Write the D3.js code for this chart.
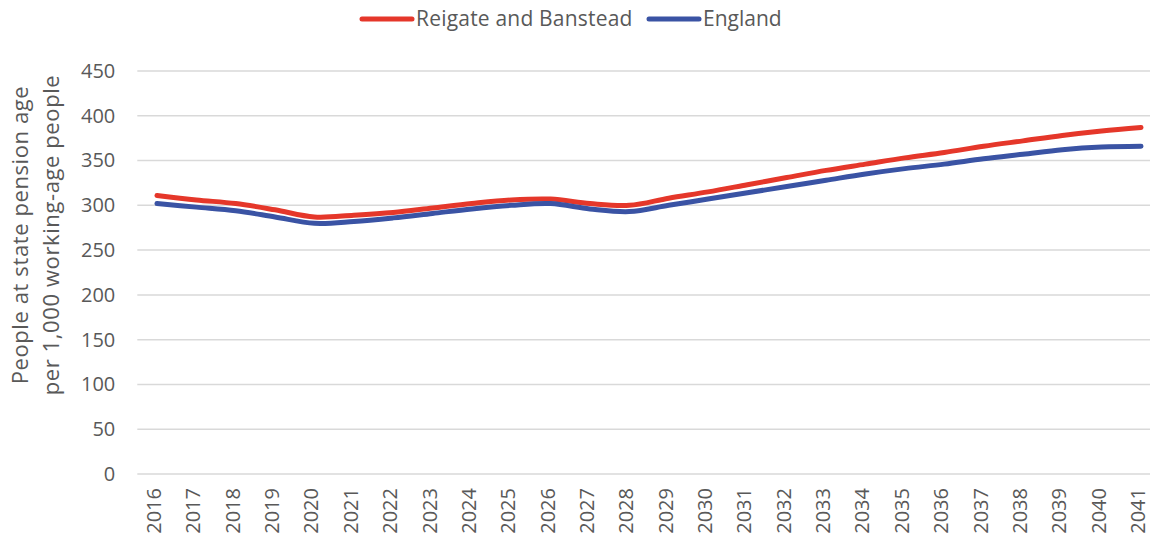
<!DOCTYPE html>
<html>
<head>
<meta charset="utf-8">
<script src="https://cdn.jsdelivr.net/npm/d3@7"></script>
<style>
  html, body { margin: 0; padding: 0; background: #fff; }
  svg { display: block; font-family: "Open Sans", "Noto Sans", sans-serif; }
</style>
</head>
<body>
<svg id="chart" width="1150" height="540"></svg>
<script>
// Old-age dependency: people at state pension age per 1,000 working-age people
const years = ["2016","2017","2018","2019","2020","2021","2022","2023","2024","2025","2026","2027","2028",
               "2029","2030","2031","2032","2033","2034","2035","2036","2037","2038","2039","2040","2041"];
const reigate = [311, 306, 302, 295, 287, 289, 292, 297, 302, 306, 307, 302, 300,
                 308, 315, 323, 331, 339, 346, 353, 359, 366, 372, 378, 383, 387];
const england = [302, 298, 294, 287, 280, 282, 286, 291, 296, 300, 302, 296, 293,
                 300, 307, 314, 321, 328, 335, 341, 346, 352, 357, 362, 365, 366];
const yTicks = [0, 50, 100, 150, 200, 250, 300, 350, 400, 450];
const seriesNames = ["Reigate and Banstead", "England"];
const seriesColors = ["#E5372A", "#3A53A4"];

const svg = d3.select("#chart");
const textColor = "#595959";
const gridColor = "#d9d9d9";

const plot = { left: 137.3, right: 1160.7, top: 71, bottom: 474 };

const x = d3.scaleBand().domain(years).range([plot.left, plot.right]);
const y = d3.scaleLinear().domain([0, 450]).range([plot.bottom, plot.top]);

// horizontal gridlines
svg.append("g")
  .selectAll("line")
  .data(yTicks)
  .join("line")
  .attr("x1", plot.left).attr("x2", plot.right)
  .attr("y1", d => y(d)).attr("y2", d => y(d))
  .attr("stroke", gridColor).attr("stroke-width", 1.5);

// y axis labels
const yAxis = svg.append("g")
  .attr("transform", `translate(${plot.left},0)`)
  .call(d3.axisLeft(y).tickValues(yTicks).tickSize(0).tickPadding(22));
yAxis.select(".domain").remove();
yAxis.selectAll("text")
  .attr("fill", textColor)
  .style("font-size", "20px")
  .style("font-family", "\"Open Sans\", sans-serif");

// x axis labels (rotated)
const xAxis = svg.append("g")
  .attr("transform", `translate(0,${plot.bottom})`)
  .call(d3.axisBottom(x).tickSize(0));
xAxis.select(".domain").remove();
xAxis.selectAll("text")
  .attr("fill", textColor)
  .style("font-size", "20px")
  .style("font-family", "\"Open Sans\", sans-serif")
  .attr("text-anchor", "end")
  .attr("transform", "rotate(-90)")
  .attr("x", -14)
  .attr("y", 0)
  .attr("dy", "0.2em");

// axis title
const title = svg.append("text")
  .attr("transform", "translate(0,235) rotate(-90)")
  .attr("text-anchor", "middle")
  .attr("fill", textColor)
  .style("font-size", "22px")
  .style("letter-spacing", "0.6px");
title.append("tspan").attr("x", 0).attr("y", 28).text("People at state pension age");
title.append("tspan").attr("x", 0).attr("y", 59).text("per 1,000 working-age people");

// series lines
const line = d3.line()
  .x((d, i) => x(years[i]) + x.bandwidth() / 2)
  .y(d => y(d))
  .curve(d3.curveCatmullRom.alpha(0.5));

const seriesData = [reigate, england];
svg.append("g")
  .selectAll("path")
  .data(seriesData)
  .join("path")
  .attr("d", d => line(d))
  .attr("fill", "none")
  .attr("stroke", (d, i) => seriesColors[i])
  .attr("stroke-width", 5)
  .attr("stroke-linecap", "round")
  .attr("stroke-linejoin", "round");

// legend
const legendItems = [
  { name: seriesNames[0], color: seriesColors[0], x0: 362, spacing: "0.2px" },
  { name: seriesNames[1], color: seriesColors[1], x0: 649, spacing: "0px" }
];
const lg = svg.append("g").selectAll("g").data(legendItems).join("g")
  .attr("transform", d => `translate(${d.x0},19)`);
lg.append("line")
  .attr("x1", 0).attr("x2", 50).attr("y1", 0).attr("y2", 0)
  .attr("stroke", d => d.color).attr("stroke-width", 5).attr("stroke-linecap", "round");
lg.append("text")
  .attr("x", 54).attr("y", 0).attr("dy", "0.35em")
  .attr("fill", textColor)
  .style("font-size", "21px")
  .style("letter-spacing", d => d.spacing)
  .text(d => d.name);
</script>
</body>
</html>
